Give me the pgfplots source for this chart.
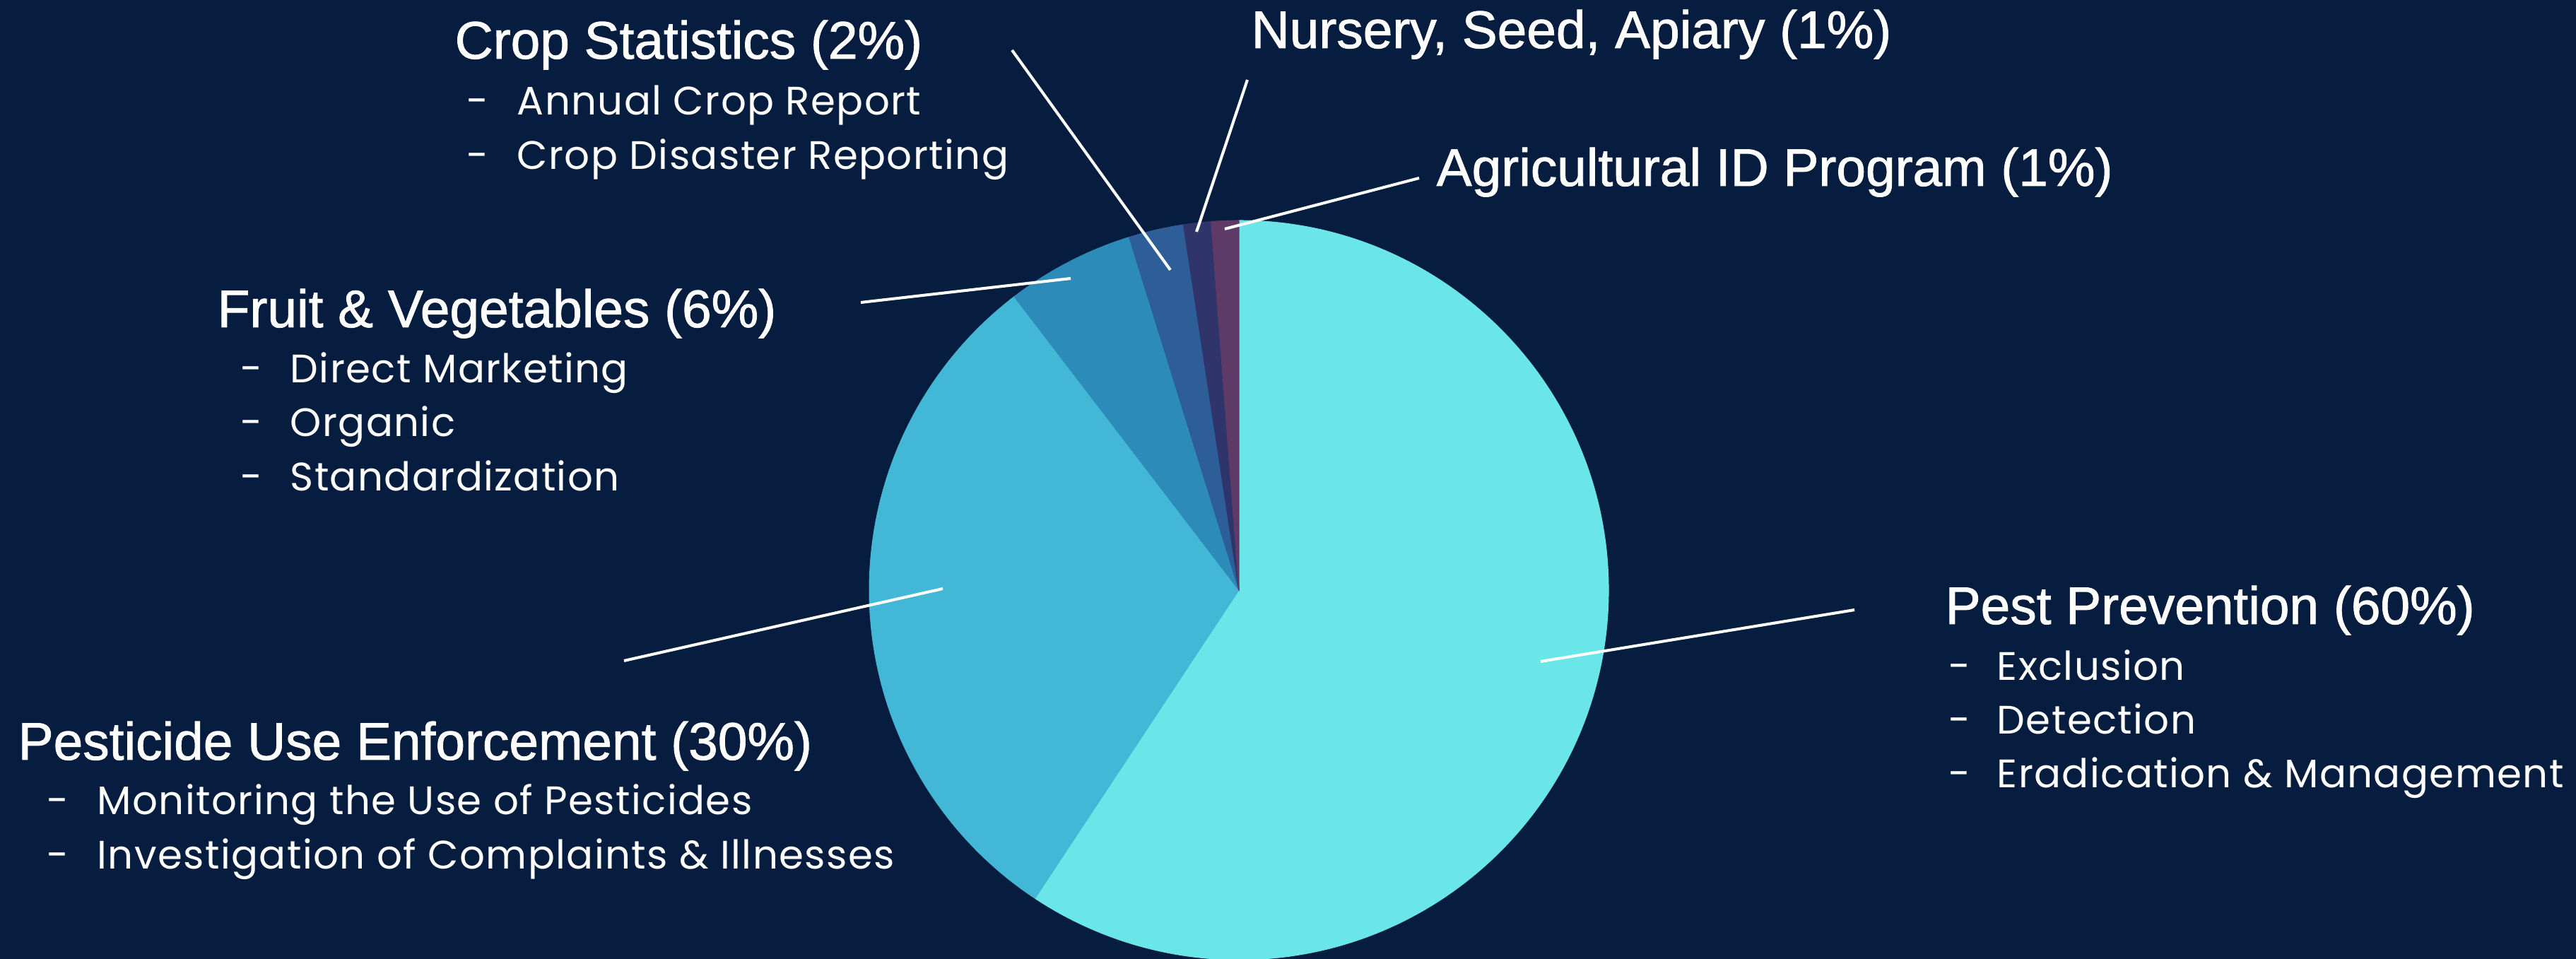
\documentclass[border=0pt]{standalone}
\usepackage{pgfplots}
\usepackage{pgfplotstable}
\pgfplotsset{compat=1.18}
\usepackage{fontspec}
\setmainfont{Liberation Sans}
\newfontfamily\headf[FakeBold=1.2]{Liberation Sans}
\newfontfamily\subf[LetterSpace=2.5]{Poppins}
\definecolor{bg}{HTML}{061D40}
\definecolor{cPest}{HTML}{6AE6E8}
\definecolor{cPestic}{HTML}{42B7D6}
\definecolor{cFruit}{HTML}{2C8BB9}
\definecolor{cCrop}{HTML}{2D5E98}
\definecolor{cNurs}{HTML}{2F346B}
\definecolor{cAgid}{HTML}{5E3A66}

\pgfplotstableread{
value
59.3
30.3
5.6
2.4
1.2
1.2
}\piedata

\newcommand\hfont{\headf\fontsize{21.3}{24}\selectfont}
\newcommand\sfont{\subf\fontsize{16}{18}\selectfont}

\begin{document}
\begin{tikzpicture}
\xdef\slicestart{90}
\pgfplotsforeachungrouped \i in {0,1,2,3,4,5}{%
  \pgfplotstablegetelem{\i}{value}\of\piedata
  \pgfmathsetmacro\tmpend{\slicestart-3.6*\pgfplotsretval}%
  \expandafter\xdef\csname sA\i\endcsname{\slicestart}%
  \expandafter\xdef\csname sB\i\endcsname{\tmpend}%
  \xdef\slicestart{\tmpend}%
}
\fill[bg] (0,0) rectangle (36.45,13.57);
\useasboundingbox (0,0) rectangle (36.45,13.57);
\begin{axis}[at={(0,0)}, anchor=south west, scale only axis,
  width=36.45cm, height=13.57cm, xmin=0, xmax=3645, ymin=-1357, ymax=0,
  hide axis, clip=false]
\newcommand\slice[2]{%
  \fill[#2, draw=#2, line width=0.3pt] (axis cs:1753,-835) -- ++(\csname sA#1\endcsname:5.23cm)
   arc[start angle=\csname sA#1\endcsname, end angle=\csname sB#1\endcsname, radius=5.23cm] -- cycle;}
\slice{0}{cPest}
\slice{1}{cPestic}
\slice{2}{cFruit}
\slice{3}{cCrop}
\slice{4}{cNurs}
\slice{5}{cAgid}
% leader lines
\draw[white, line width=1.15pt] (axis cs:2180,-936) -- (axis cs:2624,-863);
\draw[white, line width=1.15pt] (axis cs:883,-935) -- (axis cs:1334,-833);
\draw[white, line width=1.15pt] (axis cs:1218,-428) -- (axis cs:1515,-394);
\draw[white, line width=1.15pt] (axis cs:1432,-71) -- (axis cs:1656,-382);
\draw[white, line width=1.15pt] (axis cs:1765,-113) -- (axis cs:1693,-328);
\draw[white, line width=1.15pt] (axis cs:2008,-252) -- (axis cs:1733,-324);
% labels
\tikzset{lab/.style={anchor=base west, inner sep=0pt, text=white}}
% Pest Prevention
\node[lab, font=\hfont] at (axis cs:2752,-883) {Pest Prevention (60\%)};
\node[lab, font=\sfont] at (axis cs:2757,-963) {-};
\node[lab, font=\sfont] at (axis cs:2825,-963) {Exclusion};
\node[lab, font=\sfont] at (axis cs:2757,-1039) {-};
\node[lab, font=\sfont] at (axis cs:2825,-1039) {Detection};
\node[lab, font=\sfont] at (axis cs:2757,-1115) {-};
\node[lab, font=\sfont] at (axis cs:2825,-1115) {Eradication \& Management};
% Pesticide
\node[lab, font=\hfont] at (axis cs:25,-1075) {Pesticide Use Enforcement (30\%)};
\node[lab, font=\sfont] at (axis cs:66,-1153) {-};
\node[lab, font=\sfont] at (axis cs:137,-1153) {Monitoring the Use of Pesticides};
\node[lab, font=\sfont] at (axis cs:66,-1230) {-};
\node[lab, font=\sfont] at (axis cs:137,-1230) {Investigation of Complaints \& Illnesses};
% Fruit
\node[lab, font=\hfont] at (axis cs:307,-463) {Fruit \& Vegetables (6\%)};
\node[lab, font=\sfont] at (axis cs:340,-542) {-};
\node[lab, font=\sfont] at (axis cs:410,-542) {Direct Marketing};
\node[lab, font=\sfont] at (axis cs:340,-618) {-};
\node[lab, font=\sfont] at (axis cs:410,-618) {Organic};
\node[lab, font=\sfont] at (axis cs:340,-695) {-};
\node[lab, font=\sfont] at (axis cs:410,-695) {Standardization};
% Crop
\node[lab, font=\hfont] at (axis cs:643,-83) {Crop Statistics (2\%)};
\node[lab, font=\sfont] at (axis cs:660,-163) {-};
\node[lab, font=\sfont] at (axis cs:731,-163) {Annual Crop Report};
\node[lab, font=\sfont] at (axis cs:660,-240) {-};
\node[lab, font=\sfont] at (axis cs:731,-240) {Crop Disaster Reporting};
% Nursery
\node[lab, font=\hfont] at (axis cs:1770,-68) {Nursery, Seed, Apiary (1\%)};
% Ag ID
\node[lab, font=\hfont] at (axis cs:2032,-263) {Agricultural ID Program (1\%)};
\end{axis}
\end{tikzpicture}
\end{document}
